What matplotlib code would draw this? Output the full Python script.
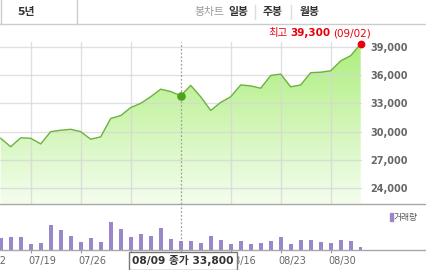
import numpy as np
import matplotlib
matplotlib.use("Agg")
import matplotlib.pyplot as plt
from matplotlib.lines import Line2D
from matplotlib.patches import Rectangle

plt.rcParams['font.family'] = ['DejaVu Sans', 'Noto Sans CJK KR']

# ---------------- data ----------------
dates = ['07/14', '07/15', '07/16', '07/19', '07/20', '07/21', '07/22', '07/23',
         '07/26', '07/27', '07/28', '07/29', '07/30', '08/02', '08/03', '08/04',
         '08/05', '08/06', '08/09', '08/10', '08/11', '08/12', '08/13', '08/16',
         '08/17', '08/18', '08/19', '08/20', '08/23', '08/24', '08/25', '08/26',
         '08/27', '08/30', '08/31', '09/01', '09/02']
prices = [29300, 28400, 29350, 29300, 28700, 30000, 30150, 30250, 30000, 29200,
          29450, 31400, 31700, 32550, 33000, 33700, 34500, 34250, 33800, 34900,
          33700, 32250, 33100, 33700, 34950, 34850, 34600, 35950, 36100, 34750,
          34950, 36250, 36300, 36450, 37500, 38050, 39300]
volumes = [120, 126, 123, 60, 63, 243, 196, 140, 73, 120, 76, 280, 210, 126, 153,
           136, 213, 103, 83, 90, 70, 133, 93, 53, 90, 56, 66, 83, 130, 56, 100,
           100, 76, 70, 100, 90, 26]
tick_labels = ['07/12', '07/19', '07/26', '08/02', '08/09', '08/16', '08/23', '08/30']
price_ticks = [24000, 27000, 30000, 33000, 36000, 39000]
selected_date = '08/09'
max_label = '최고'
tooltip_label = '종가'
volume_label = '거래량'
period_tab = '5년'
chart_tabs = ['봉차트', '일봉', '주봉', '월봉']

# ---------------- layout helpers ----------------
W, H = 426, 270
fig = plt.figure(figsize=(W / 100, H / 100), dpi=100)
fig.patch.set_facecolor('white')


def fx(px):
    return px / W


def fy(py):
    return 1 - py / H


x = np.arange(len(dates))
xl = (-0.07, 36.13)
top_px, mid_px, base_px = 41.5, 204.0, 249.5
ylo, yhi = 22337, 39551

tick_pos = []
for lab in tick_labels:
    if lab in dates:
        tick_pos.append(dates.index(lab))
    else:
        tick_pos.append(dates.index(tick_labels[1]) - 5)

# ---------------- price axes ----------------
ax = fig.add_axes([0, fy(mid_px), fx(362), (mid_px - top_px) / H])
ax.set_facecolor('none')
for s in ax.spines.values():
    s.set_visible(False)

# gradient fill under line
poly = ax.fill_between(x, prices, ylo, color='none', lw=0)
grad = np.linspace(0, 1, 256).reshape(-1, 1)
c_top = np.array([0xac, 0xee, 0x7c]) / 255
c_bot = np.array([0xf4, 0xfd, 0xee]) / 255
img = c_top[None, None, :] * (1 - grad[:, :, None]) + c_bot[None, None, :] * grad[:, :, None]
im = ax.imshow(img, extent=(xl[0], xl[1], ylo, yhi), origin='upper',
               aspect='auto', zorder=1)
im.set_clip_path(poly.get_paths()[0], transform=ax.transData)

# grid
for t in price_ticks:
    ax.axhline(t, color='#d6d6d6', lw=1, alpha=0.75, zorder=2)
for tp, lab in zip(tick_pos, tick_labels):
    if lab == selected_date:
        continue
    ax.axvline(tp, color='#d6d6d6', lw=1, alpha=0.75, zorder=2)

sel = dates.index(selected_date)
ax.axvline(sel, color='#a0a0a0', lw=0.9, ls=(0, (1.5, 1.5)), zorder=3)

ax.plot(x, prices, color='#6cb23e', lw=1.0, zorder=4, solid_joinstyle='round')
ax.plot([x[sel]], [prices[sel]], 'o', color='#4fa21c', ms=5.2, mec='#4fa21c', zorder=5)
imax = int(np.argmax(prices))
ax.plot([x[imax]], [prices[imax]], 'o', color='#e8000b', ms=4.6, zorder=6,
        clip_on=False)

ax.set_xticks([])
ax.yaxis.tick_right()
ax.set_yticks(price_ticks)
ax.set_yticklabels([f'{v:,}' for v in price_ticks])
ax.tick_params(axis='y', length=0, pad=5.8, labelsize=7, labelcolor='#666666')
for lab in ax.get_yticklabels():
    lab.set_fontweight('bold')
ax.set_xlim(*xl)
ax.set_ylim(ylo, yhi)

# ---------------- volume axes ----------------
axv = fig.add_axes([0, fy(base_px), fx(362), (base_px - mid_px) / H])
axv.set_facecolor('none')
for s in axv.spines.values():
    s.set_visible(False)
axv.bar(x, volumes, width=0.4, color='#9a87c9', zorder=2)
axv.axvline(sel, color='#a0a0a0', lw=0.9, ls=(0, (1.5, 1.5)), zorder=1)
axv.set_yticks([])
axv.set_xticks(tick_pos)
axv.set_xticklabels([])
axv.tick_params(axis='x', length=2.4, width=0.8, color='#999999', direction='out')
axv.set_xlim(*xl)
axv.set_ylim(0, 455)

for tp, lab in zip(tick_pos, tick_labels):
    xp = ax.transData.transform((tp, 0))[0] * 100 / fig.dpi
    fig.text(fx(xp - 2), fy(261), lab, ha='left', va='center', fontsize=7,
             color='#666666', zorder=3)

# divider / baseline lines across full width
fig.add_artist(Line2D([0, 1], [fy(mid_px), fy(mid_px)], color='#a8a8a8', lw=1))
fig.add_artist(Line2D([0, 1], [fy(base_px), fy(base_px)], color='#a8a8a8', lw=1))

# volume legend
fig.add_artist(Rectangle((fx(390), fy(221)), 3 / W, 8 / H, color='#9a87c9'))
fig.text(fx(394), fy(217.5), volume_label, ha='left', va='center', fontsize=6.3,
         color='#555555', family=['Noto Sans CJK KR'])

# ---------------- top bar ----------------
fig.add_artist(Line2D([0, 1], [fy(24), fy(24)], color='#cccccc', lw=1))
fig.add_artist(Line2D([fx(0.5), fx(0.5)], [fy(0), fy(24)], color='#cccccc', lw=1))
fig.add_artist(Line2D([fx(76.5), fx(76.5)], [fy(0), fy(24)], color='#cccccc', lw=1))
fig.text(fx(17), fy(11.5), period_tab, ha='left', va='center', fontsize=7.8,
         fontweight='bold', color='#333333')
tab_x = [194, 228, 263, 300]
tab_col = ['#999999', '#333333', '#333333', '#333333']
tab_w = ['normal', 'bold', 'bold', 'bold']
for t, xp, c, w in zip(chart_tabs, tab_x, tab_col, tab_w):
    fig.text(fx(xp), fy(11.5), t, ha='left', va='center', fontsize=7.8,
             fontweight=w, color=c, family=['Noto Sans CJK KR'])
for sx in [254.5, 290.5]:
    fig.add_artist(Line2D([fx(sx), fx(sx)], [fy(5), fy(19)], color='#dddddd', lw=1))

# ---------------- max annotation ----------------
renderer = fig.canvas.get_renderer()
right = 371
parts = [(f'({dates[imax]})', 'normal'), (f'{prices[imax]:,}', 'bold'), (max_label, 'normal')]
cur = right
for i, (txt, w) in enumerate(parts):
    t = fig.text(fx(cur), fy(33), txt, ha='right', va='center', fontsize=7.5,
                 fontweight=w, color='#e8000b')
    bb = t.get_window_extent(renderer)
    cur -= bb.width + (2.5 if i < len(parts) - 1 else 0)

# ---------------- tooltip ----------------
fig.text(fx(183), fy(261), f'{selected_date} {tooltip_label} {prices[sel]:,}',
         ha='center', va='center', fontsize=7.7, fontweight='bold', color='#333333',
         bbox=dict(boxstyle='square,pad=0.3', fc='white', ec='#777777', lw=1),
         zorder=10)

fig.savefig('out.png', dpi=100)
